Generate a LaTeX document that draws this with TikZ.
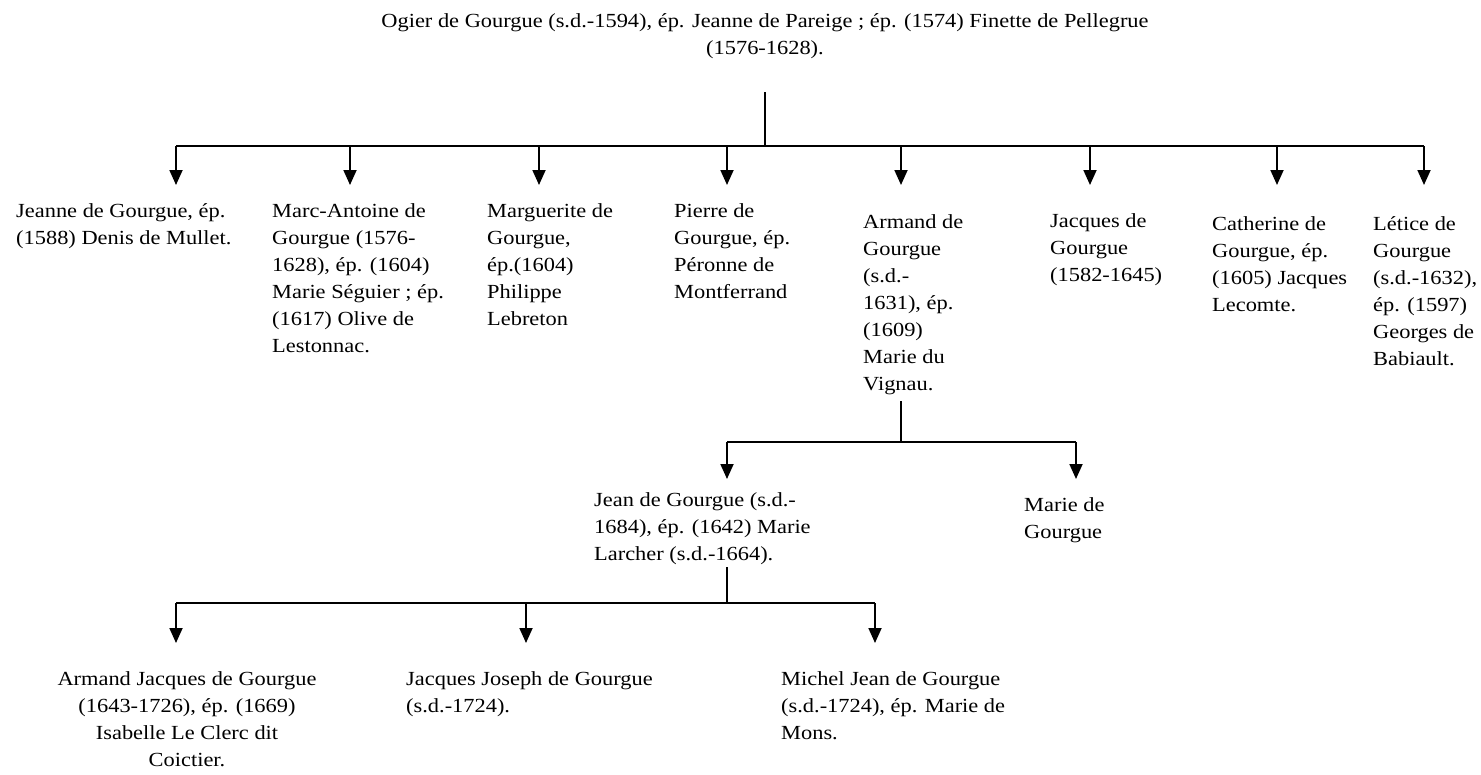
\documentclass[tikz,border=0pt]{standalone}
\usepackage{fontspec}
\setmainfont{Liberation Serif}[FakeStretch=1.12]
\usetikzlibrary{arrows.meta}
\newcommand{\txtL}[1]{\begin{tabular}[t]{@{}l@{}}#1\end{tabular}}
\newcommand{\txtC}[1]{\begin{tabular}[t]{@{}c@{}}#1\end{tabular}}
\begin{document}
\begin{tikzpicture}[x=1pt,y=-1pt,
  txt/.style={inner sep=0pt, font=\fontsize{20}{27}\selectfont, anchor=base west},
  ln/.style={line width=1.8pt},
  arr/.style={line width=1.8pt, -{Triangle[width=13pt,length=15pt]}}]
\useasboundingbox[fill=white] (0,0) rectangle (1481,774);

% ---- nodes ----
\node[txt, anchor=base] (root) at (765,27) {\txtC{Ogier de Gourgue (s.d.-1594), ép. Jeanne de Pareige ; ép. (1574) Finette de Pellegrue\\(1576-1628).}};

\node[txt] (jeanne) at (16,217.5) {\txtL{Jeanne de Gourgue, ép.\\(1588) Denis de Mullet.}};
\node[txt] (marc) at (272,217.5) {\txtL{Marc-Antoine de\\Gourgue (1576-\\1628), ép. (1604)\\Marie Séguier ; ép.\\(1617) Olive de\\Lestonnac.}};
\node[txt] (marg) at (487,217) {\txtL{Marguerite de\\Gourgue,\\ép.(1604)\\Philippe\\Lebreton}};
\node[txt] (pierre) at (674,217) {\txtL{Pierre de\\Gourgue, ép.\\Péronne de\\Montferrand}};
\node[txt] (armand) at (863,228.5) {\txtL{Armand de\\Gourgue\\(s.d.-\\1631), ép.\\(1609)\\Marie du\\Vignau.}};
\node[txt] (jacques) at (1050,227) {\txtL{Jacques de\\Gourgue\\(1582-1645)}};
\node[txt] (cath) at (1212,230) {\txtL{Catherine de\\Gourgue, ép.\\(1605) Jacques\\Lecomte.}};
\node[txt] (letice) at (1373,230) {\txtL{Létice de\\Gourgue\\(s.d.-1632),\\ép. (1597)\\Georges de\\Babiault.}};

\node[txt] (jean) at (594,506) {\txtL{Jean de Gourgue (s.d.-\\1684), ép. (1642) Marie\\Larcher (s.d.-1664).}};
\node[txt] (marie) at (1024,511) {\txtL{Marie de\\Gourgue}};

\node[txt, anchor=base] (aj) at (187,685) {\txtC{Armand Jacques de Gourgue\\(1643-1726), ép. (1669)\\Isabelle Le Clerc dit\\Coictier.}};
\node[txt] (jj) at (406,685) {\txtL{Jacques Joseph de Gourgue\\(s.d.-1724).}};
\node[txt] (mj) at (781,685) {\txtL{Michel Jean de Gourgue\\(s.d.-1724), ép. Marie de\\Mons.}};

% ---- junction coordinates ----
\coordinate (r0) at (765,92);
\coordinate (r1) at (765,146);
\coordinate (h1l) at (176,146);
\coordinate (h1r) at (1424,146);
\coordinate (t1) at (176,185);
\coordinate (t2) at (350,185);
\coordinate (t3) at (539,185);
\coordinate (t4) at (727,185);
\coordinate (t5) at (901,185);
\coordinate (t6) at (1090,185);
\coordinate (t7) at (1277,185);
\coordinate (t8) at (1424,185);

\coordinate (a0) at (901,401);
\coordinate (a1) at (901,442);
\coordinate (h2l) at (727,442);
\coordinate (h2r) at (1076,442);
\coordinate (u1) at (727,479);
\coordinate (u2) at (1076,479);

\coordinate (j0) at (727,567);
\coordinate (j1) at (727,603);
\coordinate (h3l) at (176,603);
\coordinate (h3r) at (875,603);
\coordinate (v1) at (176,643);
\coordinate (v2) at (526,643);
\coordinate (v3) at (875,643);

% ---- connectors ----
\draw[ln] (r0) -- (r1);
\draw[ln] (h1l) -- (h1r);
\foreach \t in {t1,t2,t3,t4,t5,t6,t7,t8}{
  \draw[arr] (\t |- r1) -- (\t);
}
\draw[ln] (a0) -- (a1);
\draw[ln] (h2l) -- (h2r);
\draw[arr] (h2l) -- (u1);
\draw[arr] (h2r) -- (u2);

\draw[ln] (j0) -- (j1);
\draw[ln] (h3l) -- (h3r);
\draw[arr] (h3l) -- (v1);
\draw[arr] (v2 |- j1) -- (v2);
\draw[arr] (h3r) -- (v3);
\end{tikzpicture}
\end{document}
